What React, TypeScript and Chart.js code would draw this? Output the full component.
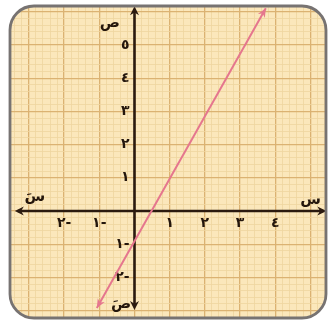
import React, { useEffect, useRef } from "react";
import { Chart, registerables } from "chart.js";

Chart.register(...registerables);

// ---- data ----
const lineX = [-1.07, 3.73];
const lineY = [-2.92, 6.11];
const xTickValues = [-2, -1, 1, 2, 3, 4];
const yTickValues = [-2, -1, 1, 2, 3, 4, 5];
const axisNames = ["ص", "صَ", "س", "سَ"]; // top, bottom, right, left
const axisNameX = [-0.7, -0.38, 5.0, -2.83];
const axisNameY = [5.66, -2.8, 0.33, 0.42];

// ---- view ----
const X_MIN = -3.821;
const X_MAX = 5.526;
const Y_MIN = -3.343;
const Y_MAX = 6.355;
const X_AXIS_EXTENT = [-3.4, 5.45];
const Y_AXIS_EXTENT = [-2.98, 6.17];
const SUB = 5;

const BG = "#fbe7bb";
const MINOR = "#efd6a0";
const MAJOR = "#dbb272";
const AXIS = "#2b1a0f";
const LINE = "#e5768e";
const TEXT = "#24160c";
const FRAME = "#777372";
const FONT = "bold 14px 'DejaVu Sans'";
const NAME_FONT = "bold 15px 'DejaVu Sans'";

const AR = ["٠", "١", "٢", "٣", "٤", "٥", "٦", "٧", "٨", "٩"];
const toAr = (v: number) => {
  const s = String(Math.abs(v)).split("").map((d) => AR[+d]).join("");
  return v < 0 ? s + "-" : s;
};

const isMajor = (v: number) => Math.abs(v - Math.round(v)) < 1e-6;

const frameRect = { l: 10, t: 6, r: 326, b: 318, rad: 24 };

function roundPath(ctx: CanvasRenderingContext2D) {
  const { l, t, r, b, rad } = frameRect;
  ctx.beginPath();
  ctx.moveTo(l + rad, t);
  ctx.lineTo(r - rad, t);
  ctx.arcTo(r, t, r, t + rad, rad);
  ctx.lineTo(r, b - rad);
  ctx.arcTo(r, b, r - rad, b, rad);
  ctx.lineTo(l + rad, b);
  ctx.arcTo(l, b, l, b - rad, rad);
  ctx.lineTo(l, t + rad);
  ctx.arcTo(l, t, l + rad, t, rad);
  ctx.closePath();
}

function arrowHead(ctx: CanvasRenderingContext2D, x: number, y: number, ang: number, len: number, half: number, color: string) {
  ctx.save();
  ctx.translate(x, y);
  ctx.rotate(ang);
  ctx.beginPath();
  ctx.moveTo(0, 0);
  ctx.lineTo(-len, -half);
  ctx.lineTo(-len * 0.7, 0);
  ctx.lineTo(-len, half);
  ctx.closePath();
  ctx.fillStyle = color;
  ctx.fill();
  ctx.restore();
}

const framePlugin = {
  id: "framePlugin",
  beforeDraw(chart: any) {
    const ctx = chart.ctx as CanvasRenderingContext2D;
    ctx.fillStyle = "#ffffff";
    ctx.fillRect(0, 0, chart.width, chart.height);
    roundPath(ctx);
    ctx.fillStyle = BG;
    ctx.fill();
    ctx.save();
    roundPath(ctx);
    ctx.clip();
  },
  beforeDatasetsDraw(chart: any) {
    const ctx = chart.ctx as CanvasRenderingContext2D;
    const xs = chart.scales.x;
    const ys = chart.scales.y;
    const x0 = xs.getPixelForValue(0);
    const y0 = ys.getPixelForValue(0);
    const xl = xs.getPixelForValue(X_AXIS_EXTENT[0]);
    const xr = xs.getPixelForValue(X_AXIS_EXTENT[1]);
    const yt = ys.getPixelForValue(Y_AXIS_EXTENT[1]);
    const yb = ys.getPixelForValue(Y_AXIS_EXTENT[0]);
    ctx.save();
    ctx.strokeStyle = AXIS;
    ctx.lineWidth = 2.6;
    ctx.beginPath();
    ctx.moveTo(xl + 3, y0);
    ctx.lineTo(xr - 3, y0);
    ctx.moveTo(x0, yt + 3);
    ctx.lineTo(x0, yb - 3);
    ctx.stroke();
    arrowHead(ctx, xr, y0, 0, 9, 4.5, AXIS);
    arrowHead(ctx, xl, y0, Math.PI, 9, 4.5, AXIS);
    arrowHead(ctx, x0, yt, -Math.PI / 2, 9, 4.5, AXIS);
    arrowHead(ctx, x0, yb, Math.PI / 2, 9, 4.5, AXIS);

    ctx.fillStyle = TEXT;
    ctx.font = FONT;
    ctx.textAlign = "center";
    ctx.textBaseline = "middle";
    xTickValues.forEach((v) => {
      ctx.fillText(toAr(v), xs.getPixelForValue(v), y0 + 12);
    });
    ctx.textAlign = "right";
    yTickValues.forEach((v) => {
      ctx.fillText(toAr(v), x0 - 5, ys.getPixelForValue(v));
    });
    ctx.font = NAME_FONT;
    ctx.textAlign = "center";
    axisNames.forEach((n, i) => {
      ctx.fillText(n, xs.getPixelForValue(axisNameX[i]), ys.getPixelForValue(axisNameY[i]));
    });
    ctx.restore();
  },
  afterDatasetsDraw(chart: any) {
    const ctx = chart.ctx as CanvasRenderingContext2D;
    const pts = chart.getDatasetMeta(0).data;
    if (pts.length < 2) return;
    const a = pts[0];
    const b = pts[pts.length - 1];
    const ang = Math.atan2(b.y - a.y, b.x - a.x);
    arrowHead(ctx, b.x, b.y, ang, 9, 4, LINE);
    arrowHead(ctx, a.x, a.y, ang + Math.PI, 9, 4, LINE);
  },
  afterDraw(chart: any) {
    const ctx = chart.ctx as CanvasRenderingContext2D;
    ctx.restore();
    ctx.save();
    roundPath(ctx);
    ctx.strokeStyle = FRAME;
    ctx.lineWidth = 2.8;
    ctx.stroke();
    ctx.restore();
  },
};

function gridTicks(min: number, max: number) {
  const out: { value: number }[] = [];
  for (let k = Math.ceil(min * SUB); k <= Math.floor(max * SUB); k++) out.push({ value: k / SUB });
  return out;
}

export default function App() {
  const ref = useRef<HTMLCanvasElement | null>(null);
  useEffect(() => {
    if (!ref.current) return;
    const chart = new Chart(ref.current, {
      type: "line",
      data: {
        datasets: [
          {
            data: lineX.map((x, i) => ({ x, y: lineY[i] })),
            borderColor: LINE,
            borderWidth: 2,
            pointRadius: 0,
            tension: 0,
          },
        ],
      },
      options: {
        animation: false,
        responsive: false,
        events: [],
        layout: { padding: 0 },
        plugins: { legend: { display: false }, tooltip: { enabled: false } },
        scales: {
          x: {
            type: "linear",
            position: { y: 0 } as any,
            min: X_MIN,
            max: X_MAX,
            afterBuildTicks: (s: any) => {
              s.ticks = gridTicks(X_MIN, X_MAX);
            },
            ticks: { display: false },
            border: { display: false },
            grid: {
              drawTicks: false,
              color: (c: any) => (isMajor(c.tick?.value ?? 0.5) ? MAJOR : MINOR),
              lineWidth: (c: any) => (isMajor(c.tick?.value ?? 0.5) ? 1.3 : 0.8),
            },
          },
          y: {
            type: "linear",
            position: { x: 0 } as any,
            min: Y_MIN,
            max: Y_MAX,
            afterBuildTicks: (s: any) => {
              s.ticks = gridTicks(Y_MIN, Y_MAX);
            },
            ticks: { display: false },
            border: { display: false },
            grid: {
              drawTicks: false,
              color: (c: any) => (isMajor(c.tick?.value ?? 0.5) ? MAJOR : MINOR),
              lineWidth: (c: any) => (isMajor(c.tick?.value ?? 0.5) ? 1.3 : 0.8),
            },
          },
        },
      },
      plugins: [framePlugin],
    });
    return () => chart.destroy();
  }, []);
  return (
    <div style={{ position: "fixed", left: 0, top: 0, width: 329, height: 322 }}>
      <canvas ref={ref} width={329} height={322} style={{ display: "block", width: 329, height: 322 }} />
    </div>
  );
}
